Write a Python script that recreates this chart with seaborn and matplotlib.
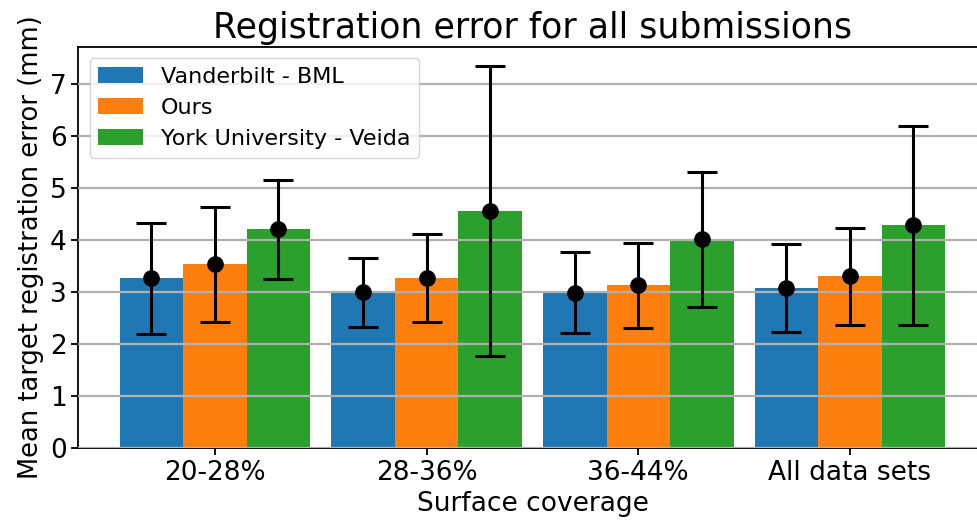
import pandas as pd
import matplotlib.pyplot as plt
from matplotlib.ticker import MultipleLocator
import seaborn as sns

coverage = ['20-28%', '28-36%', '36-44%', 'All data sets']
teams = ['Vanderbilt - BML', 'Ours', 'York University - Veida']
colors = ['#1f77b4', '#ff7f0e', '#2ca02c']

# mean TRE and standard deviation per team, one value per coverage group
mean_vanderbilt = [3.265, 2.995, 2.99, 3.075]
mean_ours = [3.535, 3.27, 3.13, 3.305]
mean_york = [4.215, 4.57, 4.015, 4.285]
std_vanderbilt = [1.065, 0.665, 0.78, 0.845]
std_ours = [1.115, 0.85, 0.82, 0.935]
std_york = [0.955, 2.79, 1.305, 1.925]

means = [mean_vanderbilt, mean_ours, mean_york]
stds = [std_vanderbilt, std_ours, std_york]

rows = []
for team, m in zip(teams, means):
    for cov, v in zip(coverage, m):
        rows.append({'Surface coverage': cov, 'team': team, 'tre': v})
df = pd.DataFrame(rows)

fig = plt.figure(figsize=(9.77, 5.25), dpi=100)
ax = fig.add_axes([0.0803, 0.1467, 0.9294, 0.7644])

sns.barplot(data=df, x='Surface coverage', y='tre', hue='team', hue_order=teams,
            order=coverage, palette=colors, saturation=1, width=0.9,
            errorbar=None, linewidth=0, ax=ax)

# error bars with the mean as a black dot, centred on each bar
for container, s in zip(ax.containers, stds):
    xs = [p.get_x() + p.get_width() / 2 for p in container.patches]
    ys = [p.get_height() for p in container.patches]
    ax.errorbar(xs, ys, yerr=s, fmt='o', color='black', ms=11, lw=2.2,
                capsize=11, capthick=2.2, zorder=5)

ax.set_xlim(-0.645, 3.645)
ax.yaxis.set_major_locator(MultipleLocator(1))
ax.set_axisbelow(False)
ax.yaxis.grid(True, color='#b0b0b0', lw=1.6, zorder=3)
for sp in ax.spines.values():
    sp.set_linewidth(1.3)

ax.set_title('Registration error for all submissions', fontsize=25)
ax.set_xlabel('Surface coverage', fontsize=19)
ax.set_ylabel('Mean target registration error (mm)', fontsize=18.5)
ax.tick_params(labelsize=19, width=1.3, length=5)
ax.legend(loc='upper left', fontsize=16, handlelength=2)

fig.savefig('out.png', dpi=100)
